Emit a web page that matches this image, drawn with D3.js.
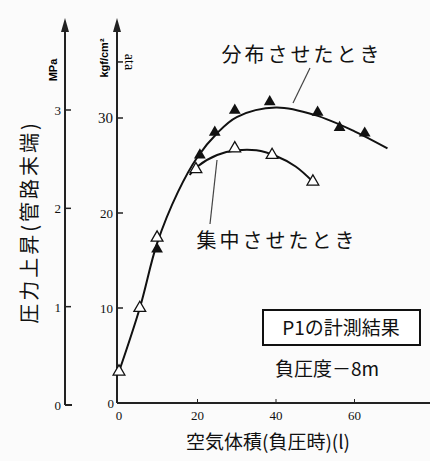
<!DOCTYPE html>
<html>
<head>
<meta charset="utf-8">
<script src="https://cdn.jsdelivr.net/npm/d3@7"></script>
<style>
  body { margin: 0; background: #fff; }
  .jp { font-family: "Noto Sans CJK JP", sans-serif; fill: #111; }
  .num { font-family: "Liberation Serif", serif; fill: #111; }
</style>
</head>
<body>
<script>
// 集中させたとき (open triangles)
var concX = [0, 5.3, 9.7, 19.6, 29.5, 39, 49.4];
var concY = [3.3, 10, 17.4, 24.6, 26.8, 26.1, 23.3];
// 分布させたとき (filled triangles)
var distX = [9.7, 20.6, 24.4, 29.5, 38.4, 50.6, 56.2, 62.6];
var distY = [16.2, 26.1, 28.5, 30.8, 31.7, 30.6, 29, 28.4];
// fitted curves
var mainCurveX = [0, 5.3, 9.7, 15, 20, 25, 30, 40, 50, 60, 68.4];
var mainCurveY = [3.3, 10, 16.8, 22.2, 25.9, 28.4, 30.1, 31.1, 30.3, 28.6, 26.8];
var concCurveX = [18, 20, 25, 30, 35, 40, 45, 49.4];
var concCurveY = [24.0, 24.9, 26.1, 26.6, 26.6, 26.0, 24.9, 23.3];

var xTicks = [0, 20, 40, 60];
var kgfTicks = [0, 10, 20, 30];
var mpaTicks = [0, 1, 2, 3];
var ataTick = 35.9;

var W = 430, H = 461;
var svg = d3.select("body").append("svg").attr("width", W).attr("height", H);

var x = d3.scaleLinear().domain([0, 80]).range([119, 433]);
var y = d3.scaleLinear().domain([0, 30]).range([403, 118]);
var yM = d3.scaleLinear().domain([0, 3]).range([405, 110]);

svg.append("rect").attr("x", 0).attr("y", 0).attr("width", W).attr("height", H).attr("fill", "#fbfbfb");

// axes lines
var ax = svg.append("g").attr("stroke", "#222").attr("stroke-width", 2);
ax.append("line").attr("x1", 65).attr("x2", 65).attr("y1", 405).attr("y2", 26);
ax.append("line").attr("x1", 117).attr("x2", 117).attr("y1", 403).attr("y2", 26);
ax.append("line").attr("x1", 117).attr("x2", 430).attr("y1", 403).attr("y2", 403);
ax.append("line").attr("x1", 65).attr("x2", 72).attr("y1", 405).attr("y2", 405);
// arrow heads
[65, 117].forEach(function(ax0) {
  svg.append("path").attr("d", `M${ax0},18 L${ax0-4},32 L${ax0+4},32 Z`).attr("fill", "#222");
});

// kgf ticks
kgfTicks.forEach(function(t) {
  if (t > 0) ax.append("line").attr("x1", 117).attr("x2", 123).attr("y1", y(t)).attr("y2", y(t)).attr("stroke-width", 1.5);
  svg.append("text").attr("class", "num").attr("x", t == 0 ? 114 : 113).attr("y", y(t) + 5)
    .attr("text-anchor", "end").attr("font-size", t == 30 ? 15 : 13).text(t);
});
ax.append("line").attr("x1", 117).attr("x2", 123).attr("y1", y(ataTick)).attr("y2", y(ataTick)).attr("stroke-width", 1.5);

// MPa ticks
mpaTicks.forEach(function(t) {
  if (t > 0) ax.append("line").attr("x1", 65).attr("x2", 71).attr("y1", yM(t)).attr("y2", yM(t)).attr("stroke-width", 1.5);
  svg.append("text").attr("class", "num").attr("x", 61).attr("y", yM(t) + 5)
    .attr("text-anchor", "end").attr("font-size", 13).text(t);
});

// x ticks
xTicks.forEach(function(t) {
  if (t > 0) ax.append("line").attr("x1", x(t)).attr("x2", x(t)).attr("y1", 403).attr("y2", 399).attr("stroke-width", 1);
  svg.append("text").attr("class", "num").attr("x", x(t)).attr("y", 420)
    .attr("text-anchor", "middle").attr("font-size", 13).text(t);
});

// unit labels
svg.append("text").attr("transform", "translate(57,70) rotate(-90)").attr("text-anchor", "middle")
  .attr("font-family", "Liberation Sans, sans-serif").attr("font-size", 11).attr("font-weight", "bold").text("MPa");
svg.append("text").attr("transform", "translate(108,58) rotate(-90)").attr("text-anchor", "middle")
  .attr("font-family", "Liberation Sans, sans-serif").attr("font-size", 11).attr("font-weight", "bold").text("kgf/cm²");
svg.append("text").attr("transform", "translate(125,62) rotate(90)").attr("text-anchor", "middle")
  .attr("font-family", "Liberation Serif, serif").attr("font-size", 14).text("ata");

// axis titles
svg.append("text").attr("class", "jp").attr("transform", "translate(37,222) rotate(-90)")
  .attr("text-anchor", "middle").attr("font-size", 20).attr("letter-spacing", 3).text("圧力上昇(管路末端)");
svg.append("text").attr("class", "jp").attr("x", 268).attr("y", 449)
  .attr("text-anchor", "middle").attr("font-size", 19).text("空気体積(負圧時)(l)");

// curves
var line = d3.line().x(d => x(d[0])).y(d => y(d[1])).curve(d3.curveCatmullRom);
svg.append("path").datum(d3.zip(mainCurveX, mainCurveY)).attr("d", line)
  .attr("fill", "none").attr("stroke", "#111").attr("stroke-width", 2);
svg.append("path").datum(d3.zip(concCurveX, concCurveY)).attr("d", line)
  .attr("fill", "none").attr("stroke", "#111").attr("stroke-width", 2);

// markers
var tri = d3.symbol().type(d3.symbolTriangle).size(60);
svg.selectAll(".conc").data(d3.zip(concX, concY)).enter().append("path")
  .attr("transform", d => `translate(${x(d[0])},${y(d[1])})`).attr("d", tri)
  .attr("fill", "#fff").attr("stroke", "#111").attr("stroke-width", 1.3);
svg.selectAll(".dist").data(d3.zip(distX, distY)).enter().append("path")
  .attr("transform", d => `translate(${x(d[0])},${y(d[1])})`).attr("d", tri)
  .attr("fill", "#111");

// annotations
svg.append("text").attr("class", "jp").attr("x", 302).attr("y", 62).attr("text-anchor", "middle")
  .attr("font-size", 20).attr("letter-spacing", 3).text("分布させたとき");
svg.append("line").attr("x1", 310).attr("y1", 68).attr("x2", 293).attr("y2", 103).attr("stroke", "#444").attr("stroke-width", 1.2);
svg.append("text").attr("class", "jp").attr("x", 277).attr("y", 248).attr("text-anchor", "middle")
  .attr("font-size", 20).attr("letter-spacing", 3).text("集中させたとき");
svg.append("line").attr("x1", 217).attr("y1", 160).attr("x2", 210).attr("y2", 224).attr("stroke", "#444").attr("stroke-width", 1.2);

svg.append("rect").attr("x", 263).attr("y", 310).attr("width", 157).attr("height", 35)
  .attr("fill", "#fff").attr("stroke", "#111").attr("stroke-width", 2);
svg.append("text").attr("class", "jp").attr("x", 341).attr("y", 335).attr("text-anchor", "middle")
  .attr("font-size", 19).text("P1の計測結果");
svg.append("text").attr("class", "jp").attr("x", 275).attr("y", 376)
  .attr("font-size", 19).text("負圧度－8m");
</script>
</body>
</html>
